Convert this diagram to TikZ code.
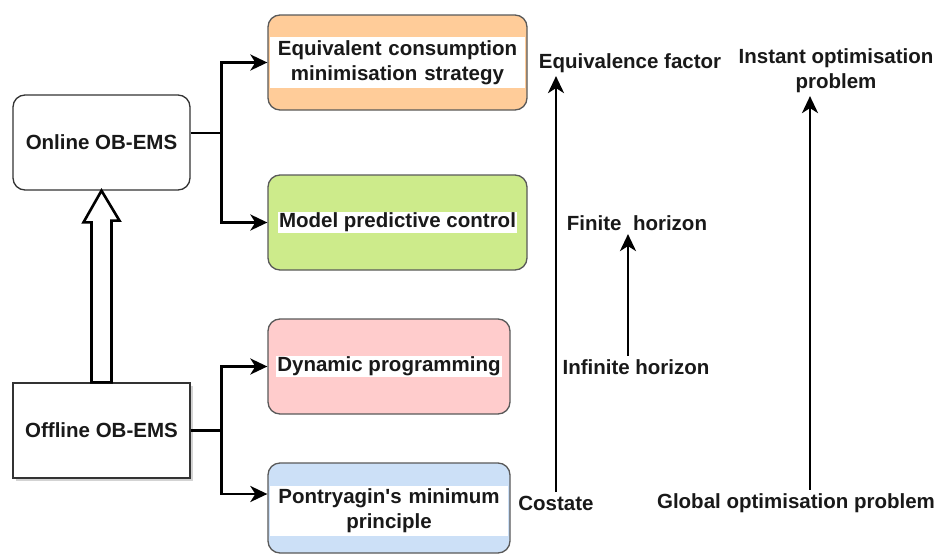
\documentclass[tikz,border=0pt]{standalone}
\usepackage{fontspec}
\setmainfont{Liberation Sans}
\usetikzlibrary{arrows.meta,shadows}

\definecolor{ecmsorange}{HTML}{FFCC99}
\definecolor{mpcgreen}{HTML}{CDEB8B}
\definecolor{dppink}{HTML}{FFCCCC}
\definecolor{pmpblue}{HTML}{CCE0F7}

\begin{document}
\begin{tikzpicture}[x=1pt,y=-1pt,
    every node/.style={font=\fontsize{20.5}{25}\selectfont\bfseries, text=black!90},
    method/.style={draw=black!65, line width=1.3pt, rounded corners=12pt, minimum height=95pt},
    band/.style={fill=white, inner sep=1pt, align=center},
    emsbox/.style={draw=black!80, line width=1.3pt, minimum width=177pt, minimum height=95pt},
    conn/.style={line width=2.8pt},
    arr/.style={line width=2.8pt, -{Stealth[length=17pt,width=16pt,inset=5pt]}},
    hollow/.style={line width=2.6pt, fill=white, line join=miter}]
    \useasboundingbox (0,0) rectangle (940,554);

    % left side
    \node[emsbox, rounded corners=12pt] (online) at (101.5,142.5) {Online OB-EMS};
    \node[emsbox, drop shadow={opacity=0.35, shadow xshift=3pt, shadow yshift=-3pt}, fill=white] (offline) at (101.5,430.5) {Offline OB-EMS};
    \draw[hollow] ([xshift=-10pt]offline.north) -- ++(0,-160) -- ++(-8,0) -- (online.south)
        -- ++(18,30) -- ++(-8,0) -- ([xshift=10pt]offline.north) -- cycle;

    % methods
    \node[method, fill=ecmsorange, minimum width=259pt] (ecms) at (397.5,62.5) {};
    \node[band, text width=253pt, inner ysep=3pt] (ecmstext) at (ecms) {Equivalent consumption\\minimisation strategy};
    \node[method, fill=mpcgreen, minimum width=259pt] (mpc) at (397.5,222.5) {};
    \node[band] (mpctext) at (mpc) {Model predictive control};
    \node[method, fill=dppink, minimum width=242pt] (dp) at (389,366.5) {};
    \node[band] (dptext) at (dp) {Dynamic programming};
    \node[method, fill=pmpblue, minimum width=242pt, minimum height=90pt] (pmp) at (389,508) {};
    \node[band, text width=236pt, inner ysep=3pt] (pmptext) at ([yshift=-3pt]pmp.center) {Pontryagin\textquotesingle s minimum\\principle};

    \draw[conn] ([yshift=9.5pt]online.east) -- ++(31,0) coordinate (ontrunk);
    \draw[arr] (ontrunk) |- (ecms.west);
    \draw[arr] (ontrunk) |- (mpc.west);
    \draw[conn] (offline.east) -- ++(31,0) coordinate (offtrunk);
    \draw[arr] (offtrunk) |- (dp.west);
    \draw[arr] (offtrunk) |- ([yshift=14pt]pmp.west);

    % right side
    \node (eqfactor) at (630,63) {Equivalence factor};
    \node[align=center] (instant) at (836,70.5) {Instant optimisation\\problem};
    \node (finite) at (637,223) {Finite\ \ horizon};
    \node (infinite) at (636,367) {Infinite horizon};
    \node (costate) at (556,503) {Costate};
    \node (global) at (796,503) {Global optimisation problem};

    \draw[arr] (costate.north) -- (costate.north |- eqfactor.south);
    \draw[arr] ([xshift=-8pt]infinite.north) -- ([xshift=-8pt]infinite.north |- finite.south);
    \draw[arr] ([xshift=14pt]global.north) -- ([xshift=14pt]global.north |- instant.south);
\end{tikzpicture}
\end{document}
